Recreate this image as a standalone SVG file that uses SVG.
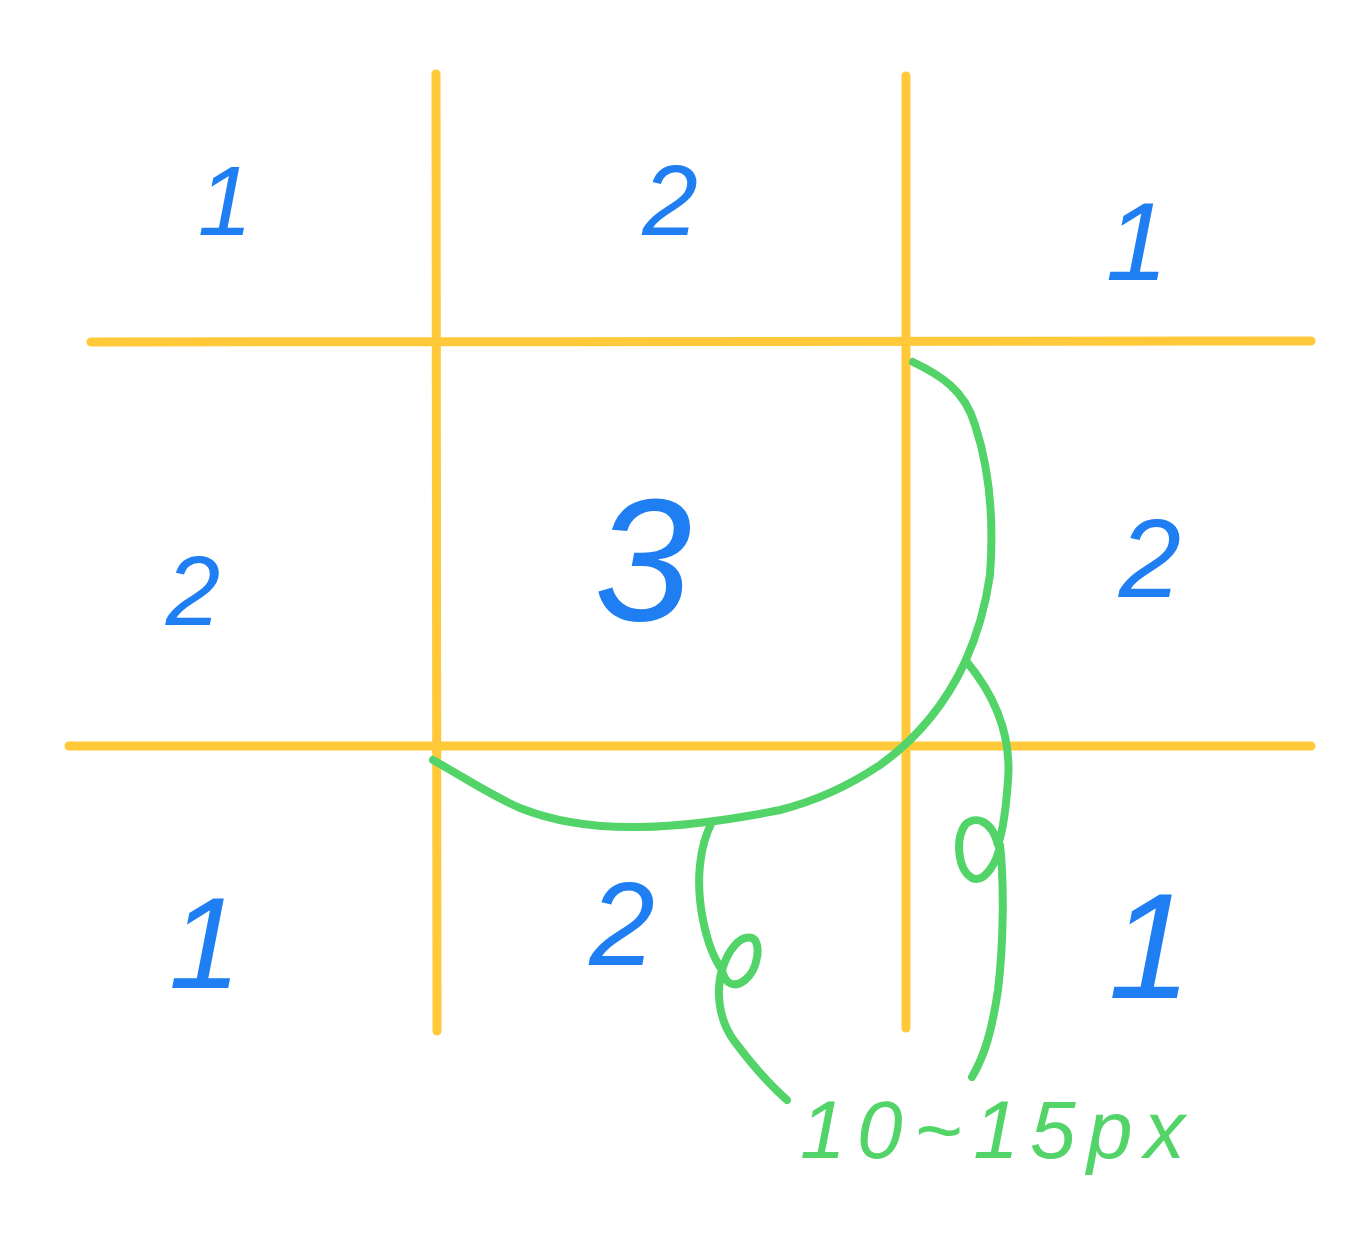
<svg xmlns="http://www.w3.org/2000/svg" width="1372" height="1254" viewBox="0 0 1372 1254">
<style>
.grid{stroke:#FFC93A;stroke-width:9;stroke-linecap:round;fill:none}
.num{fill:#1F7FF2;font-family:"Liberation Sans",Arial,sans-serif;font-style:italic;text-anchor:middle}
.conn{stroke:#52D468;stroke-width:8;stroke-linecap:round;stroke-linejoin:round;fill:none}
.lbl{fill:#52D468;font-family:"Liberation Sans",Arial,sans-serif;font-style:italic}
</style>
<rect width="1372" height="1254" fill="#ffffff"/>
<g id="grid">
  <line class="grid" x1="436" y1="74" x2="437" y2="1031"/>
  <line class="grid" x1="906" y1="76" x2="906" y2="1028"/>
  <line class="grid" x1="91" y1="342" x2="1311" y2="341"/>
  <line class="grid" x1="69" y1="746" x2="1311" y2="746"/>
</g>
<g id="cell-tl"><text class="num" x="225" y="235" font-size="98">1</text></g>
<g id="cell-tm"><text class="num" x="670" y="235" font-size="100">2</text></g>
<g id="cell-tr"><text class="num" x="1137" y="280" font-size="112">1</text></g>
<g id="cell-ml"><text class="num" x="193" y="625" font-size="98">2</text></g>
<g id="cell-mm"><text class="num" x="643" y="620" font-size="175">3</text></g>
<g id="cell-mr"><text class="num" x="1150" y="597" font-size="112">2</text></g>
<g id="cell-bl"><text class="num" x="205" y="988" font-size="130">1</text></g>
<g id="cell-bm"><text class="num" x="622" y="965" font-size="118">2</text></g>
<g id="cell-br"><text class="num" x="1150" y="998" font-size="150">1</text></g>
<g id="connectors">
  <path class="conn" d="M 913 362 C 940 375, 965 390, 975 425 C 990 470, 994 520, 990 575 C 985 610, 975 640, 965 662 C 945 705, 915 740, 880 765 C 850 785, 820 800, 780 810 C 740 818, 690 826, 640 827 C 590 828, 550 820, 520 808 C 490 795, 460 775, 433 760"/>
  <path class="conn" d="M 967 662 C 990 690, 1012 730, 1008 780 C 1006 810, 1003 830, 998 845 C 992 820, 975 815, 965 825 C 955 840, 958 870, 972 878 C 985 884, 998 860, 1000 845 C 1004 880, 1004 940, 998 990 C 992 1030, 985 1055, 972 1077"/>
  <path class="conn" d="M 712 822 C 700 845, 695 880, 703 920 C 708 945, 715 960, 722 970 C 728 950, 740 935, 752 938 C 762 942, 758 970, 745 980 C 735 988, 725 985, 722 970 C 716 990, 718 1020, 735 1042 C 750 1062, 770 1085, 787 1100"/>
</g>
<g id="label">
  <text class="lbl" x="800" y="1158" font-size="82" textLength="385" lengthAdjust="spacing">10~15px</text>
</g>
</svg>
